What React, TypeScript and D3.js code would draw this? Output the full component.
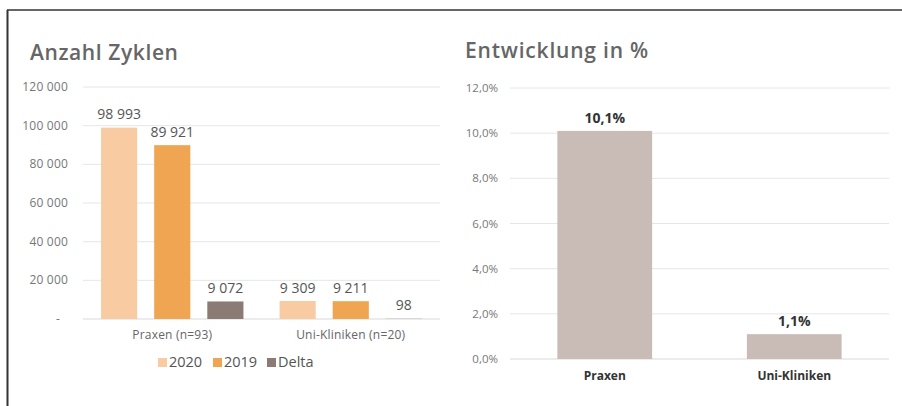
import React from "react";
import * as d3 from "d3";

const groups = ["Praxen (n=93)", "Uni-Kliniken (n=20)"];
const seriesNames = ["2020", "2019", "Delta"];
const values2020 = [98993, 9309];
const values2019 = [89921, 9211];
const valuesDelta = [9072, 98];
const leftTicks = [0, 20000, 40000, 60000, 80000, 100000, 120000];

const pctCategories = ["Praxen", "Uni-Kliniken"];
const pctValues = [10.1, 1.1];
const rightTicks = [0, 2, 4, 6, 8, 10, 12];

const seriesColors = ["#f9cba2", "#f0a552", "#8c7a74"];
const pctColor = "#c9bcb7";
const FONT = "'Open Sans', 'DejaVu Sans', sans-serif";

const loc = d3.formatLocale({ decimal: ",", thousands: " ", grouping: [3], currency: ["", ""] });
const fmtInt = loc.format(",d");
const fmtPct1 = loc.format(".1f");

export default function App() {
  const seriesValues = [values2020, values2019, valuesDelta];

  // left chart scales
  const yL = d3.scaleLinear().domain([0, 120000]).range([319, 87]);
  const xL = d3.scaleBand().domain(groups).range([83, 440]).padding(0);
  const xS = d3
    .scaleBand()
    .domain(seriesNames)
    .range([0, xL.bandwidth()])
    .paddingInner(0.32)
    .paddingOuter(0.34);

  // right chart scales
  const yR = d3.scaleLinear().domain([0, 12]).range([359, 88]);
  const xR = d3.scaleBand().domain(pctCategories).range([510, 889]).paddingInner(0.5).paddingOuter(0.25);

  const legendX = [158, 213, 267];

  return (
    <svg
      width={902}
      height={406}
      style={{ position: "absolute", left: 0, top: 0, background: "#fff" }}
      fontFamily={FONT}
    >
      <rect x={0} y={0} width={902} height={406} fill="#fff" />
      {/* frame */}
      <line x1={7.5} y1={10} x2={7.5} y2={406} stroke="#333" strokeWidth={2} />
      <line x1={7} y1={10} x2={902} y2={10} stroke="#333" strokeWidth={1.5} />

      {/* LEFT CHART */}
      <text x={30} y={60} fontSize={21} fontWeight={600} fill="#666" letterSpacing={0.6}>
        Anzahl Zyklen
      </text>
      {leftTicks.map((t) => (
        <g key={t}>
          <line x1={83} x2={440} y1={yL(t)} y2={yL(t)} stroke={t === 0 ? "#d9d9d9" : "#e6e6e6"} strokeWidth={1} />
          <text
            x={t === 0 ? 60 : 68}
            y={yL(t) + 4}
            fontSize={12}
            fill="#777"
            textAnchor="end"
            letterSpacing={0.2}
          >
            {t === 0 ? "-" : fmtInt(t)}
          </text>
        </g>
      ))}
      {groups.map((g, gi) => (
        <g key={g}>
          {seriesNames.map((s, si) => {
            const v = seriesValues[si][gi];
            const x = (xL(g) as number) + (xS(s) as number);
            const w = xS.bandwidth();
            return (
              <g key={s}>
                <rect x={x} y={yL(v)} width={w} height={yL(0) - yL(v)} fill={seriesColors[si]} />
                <text x={x + w / 2} y={yL(v) - 8.5} fontSize={14} fill="#555" textAnchor="middle">
                  {fmtInt(v)}
                </text>
              </g>
            );
          })}
          <text
            x={(xL(g) as number) + xL.bandwidth() / 2}
            y={339}
            fontSize={12}
            fill="#666"
            textAnchor="middle"
            letterSpacing={0.2}
          >
            {g}
          </text>
        </g>
      ))}
      {seriesNames.map((s, i) => (
        <g key={s}>
          <rect x={legendX[i]} y={358} width={9} height={9} fill={seriesColors[i]} />
          <text x={legendX[i] + 11} y={367} fontSize={14.5} fill="#555">
            {s}
          </text>
        </g>
      ))}

      {/* RIGHT CHART */}
      <text x={465} y={58} fontSize={21} fontWeight={600} fill="#666" letterSpacing={0.8}>
        Entwicklung in %
      </text>
      {rightTicks.map((t) => (
        <g key={t}>
          <line x1={510} x2={889} y1={yR(t)} y2={yR(t)} stroke={t === 0 ? "#d9d9d9" : "#e6e6e6"} strokeWidth={1} />
          <text x={498} y={yR(t) + 4} fontSize={11.5} fill="#777" textAnchor="end">
            {fmtPct1(t) + "%"}
          </text>
        </g>
      ))}
      {pctCategories.map((c, i) => {
        const v = pctValues[i];
        const x = xR(c) as number;
        const w = xR.bandwidth();
        return (
          <g key={c}>
            <rect x={x} y={yR(v)} width={w} height={yR(0) - yR(v)} fill={pctColor} />
            <text x={x + w / 2} y={yR(v) - 8} fontSize={14} fontWeight={700} fill="#333" textAnchor="middle">
              {fmtPct1(v) + "%"}
            </text>
            <text x={x + w / 2} y={380} fontSize={12} fontWeight={700} fill="#333" textAnchor="middle">
              {c}
            </text>
          </g>
        );
      })}
    </svg>
  );
}
